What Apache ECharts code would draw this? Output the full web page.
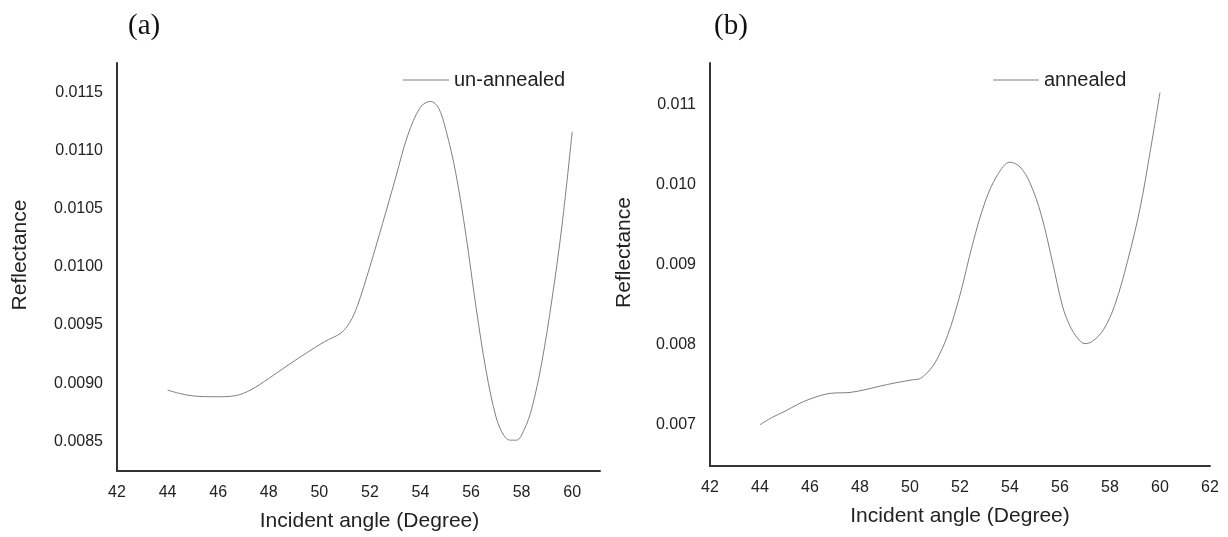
<!DOCTYPE html>
<html>
<head>
<meta charset="utf-8">
<script src="https://cdn.jsdelivr.net/npm/echarts@6/dist/echarts.min.js"></script>
<style>
html,body{margin:0;padding:0;background:#fff;}
#chart{width:1228px;height:537px;}
</style>
</head>
<body>
<div id="chart"></div>
<script>
// ---- data ----
const anglesA = [44, 44.5, 45, 45.5, 46, 46.7, 47.3, 48, 48.8, 49.5, 50.2, 50.85, 51.2, 51.5, 52, 52.5, 53, 53.5, 54, 54.4, 54.7, 55, 55.4, 55.8, 56.2, 56.6, 57, 57.3, 57.55, 57.8, 58.1, 58.4, 58.8, 59.2, 59.6, 60];
const reflA = [0.00894, 0.00891, 0.00889, 0.008884, 0.008883, 0.008893, 0.008943, 0.00904, 0.00916, 0.00926, 0.009355, 0.00943, 0.00952, 0.00966, 0.01000, 0.01037, 0.01075, 0.01113, 0.01137, 0.01142, 0.01137, 0.01118, 0.01080, 0.01027, 0.00965, 0.00910, 0.00870, 0.00855, 0.00851, 0.00851, 0.00860, 0.00878, 0.00918, 0.00972, 0.01036, 0.01116];
const anglesB = [44, 44.5, 45, 45.5, 46, 46.8, 47.6, 48.2, 49.1, 50.1, 50.35, 50.6, 51, 51.5, 52, 52.5, 53, 53.5, 54, 54.4, 54.8, 55.25, 55.7, 56.1, 56.4, 56.7, 57, 57.3, 57.75, 58.2, 58.7, 59.2, 59.6, 60];
const reflB = [0.006996, 0.00709, 0.007165, 0.00725, 0.007318, 0.007388, 0.0074, 0.007434, 0.0075, 0.007558, 0.007566, 0.00762, 0.00777, 0.00811, 0.00862, 0.00925, 0.00978, 0.01012, 0.01028, 0.01022, 0.01002, 0.00962, 0.00903, 0.00848, 0.00823, 0.00808, 0.00801, 0.00804, 0.00819, 0.00850, 0.00904, 0.00970, 0.01040, 0.01115];
const xTicksA = [42, 44, 46, 48, 50, 52, 54, 56, 58, 60];
const xTicksB = [42, 44, 46, 48, 50, 52, 54, 56, 58, 60, 62];
const yTicksA = [0.0085, 0.0090, 0.0095, 0.0100, 0.0105, 0.0110, 0.0115];
const yTicksB = [0.007, 0.008, 0.009, 0.010, 0.011];
const seriesNames = ['un-annealed', 'annealed'];
const panelLabels = ['(a)', '(b)'];
const xTitle = 'Incident angle (Degree)';
const yTitle = 'Reflectance';

const zip = (xs, ys) => xs.map((x, i) => [x, ys[i]]);

const FONT = '"Liberation Sans", Arial, sans-serif';
const LINE_COLOR = '#808080';
const axisLineStyle = { color: '#333', width: 2 };
const tickLabel = { color: '#222', fontSize: 16, fontFamily: FONT };
const nameStyle = { color: '#222', fontSize: 21, fontFamily: FONT };

function xAxisCfg(gridIndex, min, max, ticks) {
  return {
    type: 'value', gridIndex, min, max,
    axisLine: { show: true, lineStyle: axisLineStyle },
    axisTick: { show: false },
    splitLine: { show: false },
    axisLabel: Object.assign({ margin: 14, customValues: ticks }, tickLabel),
    name: xTitle, nameLocation: 'middle', nameGap: 40,
    nameTextStyle: Object.assign({}, nameStyle, gridIndex === 0 ? { padding: [0, 0, 0, 22] } : {})
  };
}
function yAxisCfg(gridIndex, min, max, ticks, digits, gap) {
  return {
    type: 'value', gridIndex, min, max,
    axisLine: { show: true, lineStyle: axisLineStyle },
    axisTick: { show: false },
    splitLine: { show: false },
    axisLabel: Object.assign({ margin: 14, customValues: ticks, formatter: v => v.toFixed(digits) }, tickLabel),
    name: yTitle, nameLocation: 'middle', nameGap: gap,
    nameTextStyle: Object.assign({}, nameStyle, { padding: [0, 0, 0, 24] })
  };
}
function legendCfg(name, left) {
  return {
    data: [{ name, icon: 'rect' }], left, top: 65,
    itemWidth: 46, itemHeight: 1,
    itemStyle: { color: LINE_COLOR },
    lineStyle: { width: 0 },
    textStyle: { color: '#222', fontSize: 20, fontFamily: FONT }
  };
}

const chart = echarts.init(document.getElementById('chart'), null, { renderer: 'canvas' });
chart.setOption({
  animation: false,
  backgroundColor: '#fff',
  grid: [
    { left: 117, top: 63, width: 483, height: 410 },
    { left: 710, top: 63, width: 500, height: 403 }
  ],
  xAxis: [
    xAxisCfg(0, 42, 61.1, xTicksA),
    xAxisCfg(1, 42, 62, xTicksB)
  ],
  yAxis: [
    yAxisCfg(0, 0.008245, 0.01175, yTicksA, 4, 86),
    yAxisCfg(1, 0.00648, 0.01152, yTicksB, 3, 75)
  ],
  legend: [
    legendCfg(seriesNames[0], 398),
    legendCfg(seriesNames[1], 988)
  ],
  series: [
    { name: seriesNames[0], type: 'line', xAxisIndex: 0, yAxisIndex: 0, data: zip(anglesA, reflA),
      smooth: 0.35, symbol: 'none', lineStyle: { color: LINE_COLOR, width: 1 }, itemStyle: { color: LINE_COLOR } },
    { name: seriesNames[1], type: 'line', xAxisIndex: 1, yAxisIndex: 1, data: zip(anglesB, reflB),
      smooth: 0.35, symbol: 'none', lineStyle: { color: LINE_COLOR, width: 1 }, itemStyle: { color: LINE_COLOR } }
  ],
  graphic: [
    { type: 'text', left: 128, top: 12, style: { text: panelLabels[0], font: '29px "Liberation Serif", "Times New Roman", serif', fill: '#111' } },
    { type: 'text', left: 714, top: 12, style: { text: panelLabels[1], font: '29px "Liberation Serif", "Times New Roman", serif', fill: '#111' } }
  ]
});
</script>
</body>
</html>
